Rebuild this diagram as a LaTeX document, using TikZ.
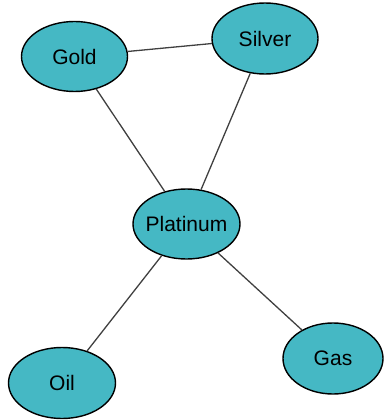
\documentclass[tikz,border=0pt]{standalone}
\usepackage{fontspec}
\setmainfont{Liberation Sans}
\usetikzlibrary{shapes.geometric}
\definecolor{teal1}{RGB}{69,184,196}
\definecolor{edgegray}{RGB}{64,64,64}
\newcommand{\zw}[1]{\makebox[0pt]{#1}}
\begin{document}
\begin{tikzpicture}[x=1pt,y=-1pt,
  metal/.style={ellipse, draw=black, line width=1.4pt, fill=teal1, inner sep=0pt,
    font=\fontsize{21}{25}\selectfont},
  link/.style={draw=edgegray, line width=1.3pt}]
\useasboundingbox (0,0) rectangle (384,420);
\node[metal, minimum width=106pt, minimum height=70pt] (gold) at (74.5,56.5) {\zw{Gold}};
\node[metal, minimum width=106pt, minimum height=71pt] (silver) at (265,38.5) {\zw{Silver}};
\node[metal, minimum width=107pt, minimum height=70pt] (plat) at (186.5,224) {\zw{Platinum}};
\node[metal, minimum width=107pt, minimum height=71pt] (oil) at (62,383) {\zw{Oil}};
\node[metal, minimum width=100pt, minimum height=71pt] (gas) at (333,358.5) {\zw{Gas}};
\draw[link] (gold) -- (silver);
\draw[link] (gold) -- (plat);
\draw[link] (silver) -- (plat);
\draw[link] (plat) -- (oil);
\draw[link] (plat) -- (gas);
\end{tikzpicture}
\end{document}
